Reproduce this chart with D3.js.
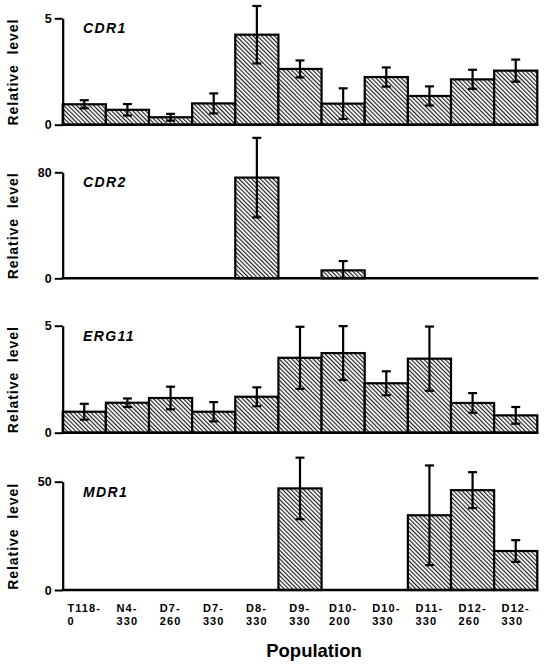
<!DOCTYPE html>
<html>
<head>
<meta charset="utf-8">
<script src="https://cdn.jsdelivr.net/npm/d3@7"></script>
<style>
  html, body { margin: 0; padding: 0; background: #fff; }
  svg { display: block; font-family: "Liberation Sans", Arial, Helvetica, sans-serif; }
</style>
</head>
<body>
<svg id="chart" width="546" height="665"></svg>
<script>
// ---- data ----
const categories = ["T118-0","N4-330","D7-260","D7-330","D8-330","D9-330","D10-200","D10-330","D11-330","D12-260","D12-330"];
const genes = ["CDR1","CDR2","ERG11","MDR1"];
const yMax = [5, 80, 5, 50];
const cdr1 = [0.96,0.70,0.35,1.00,4.23,2.62,0.99,2.24,1.35,2.13,2.54];
const cdr1Err = [0.19,0.27,0.16,0.47,1.35,0.40,0.72,0.45,0.45,0.45,0.52];
const cdr2 = [0,0,0,0,76,0,6,0,0,0,0];
const cdr2Err = [0,0,0,0,30,0,7,0,0,0,0];
const erg11 = [0.98,1.40,1.62,0.98,1.68,3.50,3.72,2.31,3.46,1.39,0.81];
const erg11Err = [0.37,0.20,0.53,0.45,0.44,1.45,1.26,0.56,1.50,0.46,0.39];
const mdr1 = [0,0,0,0,0,46.9,0,0,34.5,46.1,18.0];
const mdr1Err = [0,0,0,0,0,14.2,0,0,23.0,8.3,5.0];
const values = [cdr1, cdr2, erg11, mdr1];
const errors = [cdr1Err, cdr2Err, erg11Err, mdr1Err];
const yTitle = "Relative  level";
const xTitle = "Population";

// ---- layout ----
const svg = d3.select("#chart");
const panels = [
  {top: 18.3, zero: 124.7},
  {top: 172.3, zero: 278.3},
  {top: 325.7, zero: 432.7},
  {top: 481.7, zero: 590}
];
const x = d3.scaleBand().domain(categories).range([62.7, 537.3]).paddingInner(0).paddingOuter(0);

const defs = svg.append("defs");
const pat = defs.append("pattern")
  .attr("id", "hatch")
  .attr("patternUnits", "userSpaceOnUse")
  .attr("width", 3).attr("height", 3)
  .attr("patternTransform", "rotate(-45)");
pat.append("rect").attr("width", 3).attr("height", 3).attr("fill", "#fff");
pat.append("line").attr("x1", 0.6).attr("y1", 0).attr("x2", 0.6).attr("y2", 3)
  .attr("stroke", "#111").attr("stroke-width", 1.1);

panels.forEach((p, gi) => {
  const y = d3.scaleLinear().domain([0, yMax[gi]]).range([p.zero, p.top]);
  const g = svg.append("g");
  const vals = values[gi], errs = errors[gi];
  const data = categories.map((c, i) => ({c, v: vals[i], e: errs[i]})).filter(d => d.v > 0);

  // bars
  g.selectAll("rect.bar").data(data).enter().append("rect")
    .attr("class", "bar")
    .attr("x", d => x(d.c))
    .attr("y", d => y(d.v))
    .attr("width", x.bandwidth())
    .attr("height", d => y(0) - y(d.v))
    .attr("fill", "url(#hatch)")
    .attr("stroke", "#000")
    .attr("stroke-width", 2.2);

  // error bars
  const cap = 4.5;
  const eb = g.selectAll("g.err").data(data.filter(d => d.e > 0)).enter().append("g");
  eb.append("line")
    .attr("x1", d => x(d.c) + x.bandwidth()/2).attr("x2", d => x(d.c) + x.bandwidth()/2)
    .attr("y1", d => y(d.v + d.e)).attr("y2", d => y(Math.max(0, d.v - d.e)))
    .attr("stroke", "#000").attr("stroke-width", 2.2);
  eb.append("line")
    .attr("x1", d => x(d.c) + x.bandwidth()/2 - cap).attr("x2", d => x(d.c) + x.bandwidth()/2 + cap)
    .attr("y1", d => y(d.v + d.e)).attr("y2", d => y(d.v + d.e))
    .attr("stroke", "#000").attr("stroke-width", 2.2);
  eb.filter(d => d.v - d.e > 0).append("line")
    .attr("x1", d => x(d.c) + x.bandwidth()/2 - cap).attr("x2", d => x(d.c) + x.bandwidth()/2 + cap)
    .attr("y1", d => y(d.v - d.e)).attr("y2", d => y(d.v - d.e))
    .attr("stroke", "#000").attr("stroke-width", 2.2);

  // y axis
  const yAxis = d3.axisLeft(y).tickValues([0, yMax[gi]]).tickFormat(d3.format("d"))
    .tickSize(8).tickSizeOuter(0).tickPadding(3);
  const ag = g.append("g").attr("transform", `translate(${x.range()[0]},0)`).call(yAxis);
  ag.select(".domain").attr("stroke", "#000").attr("stroke-width", 2.2);
  ag.selectAll(".tick line").attr("stroke", "#000").attr("stroke-width", 2);
  ag.selectAll(".tick text").attr("font-size", 12.5).attr("font-weight", "bold")
    .attr("font-family", "Liberation Sans, Arial, sans-serif").attr("fill", "#000");

  // x baseline
  g.append("line").attr("x1", x.range()[0] - 1).attr("x2", x.range()[1] + 1)
    .attr("y1", y(0)).attr("y2", y(0)).attr("stroke", "#000").attr("stroke-width", 2.4);

  // gene label
  g.append("text").attr("x", 83).attr("y", p.top + 15)
    .attr("font-size", 14).attr("font-weight", "bold").attr("font-style", "italic")
    .attr("letter-spacing", 1.4).text(genes[gi]);

  // y title
  const cy = (p.top + p.zero) / 2 + 1;
  g.append("text").attr("transform", `translate(18,${cy}) rotate(-90)`)
    .attr("text-anchor", "middle").attr("font-size", 14).attr("font-weight", "bold")
    .attr("textLength", 106).attr("lengthAdjust", "spacing")
    .style("white-space", "pre").text(yTitle);
});

// x tick labels
const xl = svg.append("g");
categories.forEach(c => {
  const idx = c.indexOf("-");
  const lines = [c.slice(0, idx + 1), c.slice(idx + 1)];
  const t = xl.append("text").attr("font-size", 11).attr("font-weight", "bold").attr("letter-spacing", 1.1);
  lines.forEach((ln, i) => t.append("tspan").attr("x", 0).attr("y", 612 + i * 12.5).text(ln));
  let w = 0;
  t.selectAll("tspan").each(function() { w = Math.max(w, this.getComputedTextLength()); });
  const cx = x(c) + x.bandwidth() / 2;
  t.selectAll("tspan").attr("x", cx - w / 2);
});

svg.append("text").attr("x", 314).attr("y", 657).attr("text-anchor", "middle")
  .attr("font-size", 18.5).attr("font-weight", "bold").text(xTitle);
</script>
</body>
</html>
